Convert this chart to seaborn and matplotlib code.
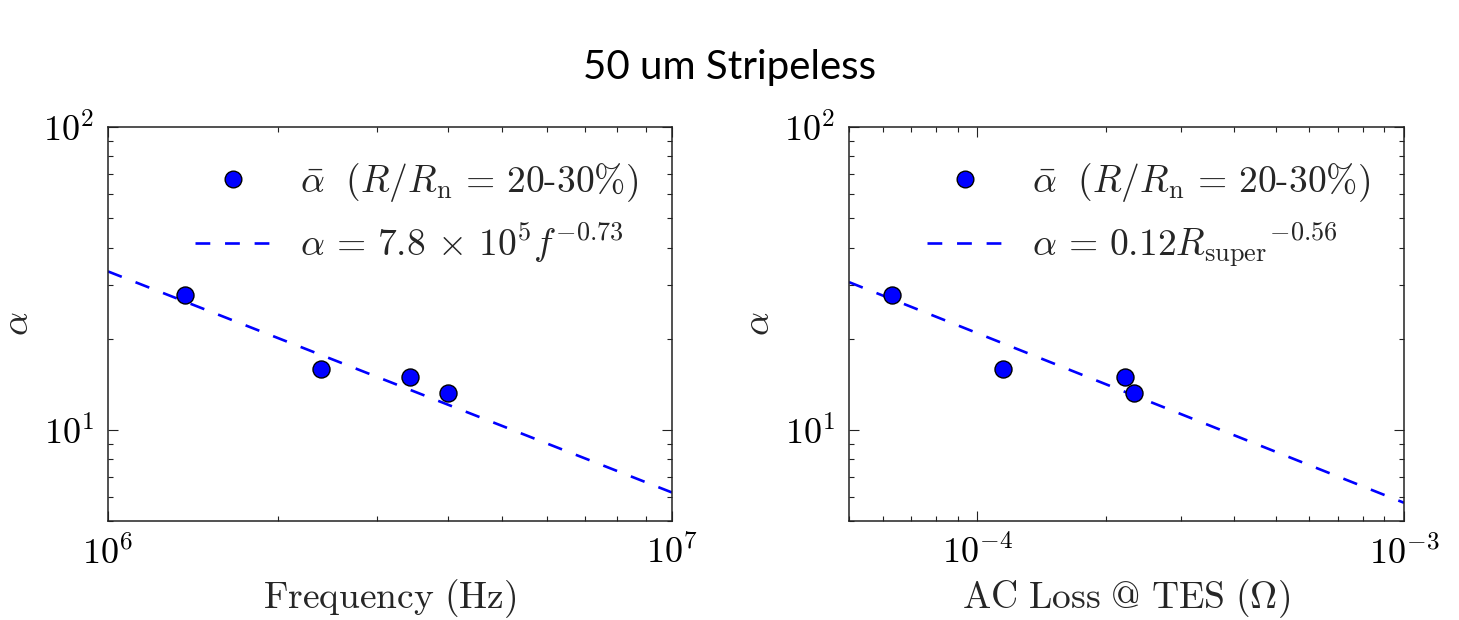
import numpy as np
import matplotlib
matplotlib.use("Agg")
import matplotlib.pyplot as plt
import seaborn as sns
from matplotlib.lines import Line2D

# ---- data ----
freq_hz = [1.37e6, 2.39e6, 3.43e6, 4.0e6]
alpha_left = [27.8, 15.9, 15.0, 13.2]
ac_loss_ohm = [6.29e-5, 1.15e-4, 2.22e-4, 2.33e-4]
alpha_right = [27.8, 15.9, 15.0, 13.2]
fit_left = (8.0e5, -0.73)     # alpha = A f^b
fit_right = (0.12, -0.56)     # alpha = A R^b
xlim_left = (1e6, 1e7)
xlim_right = (5e-5, 1e-3)
ylim = (5, 100)
title = "50 um Stripeless"
xlabel_left = r"$\mathrm{Frequency\ (Hz)}$"
xlabel_right = r"$\mathrm{AC\ Loss\ @\ TES\ (\Omega)}$"
ylabel = r"$\alpha$"
label_pts = r"$\bar{\alpha}\ \ (R/R_\mathrm{n}\,=\,20$-$30\%)$"
label_fit_left = r"$\alpha\,=\,7.8\,\times\,10^5 f^{-0.73}$"
label_fit_right = r"$\alpha\,=\,0.12{R_\mathrm{super}}^{-0.56}$"

sns.set_style("white")
plt.rcParams.update({
    "font.family": ["cmr10", "DejaVu Serif"],
    "mathtext.fontset": "cm",
    "axes.unicode_minus": False,
    "axes.formatter.use_mathtext": True,
    "xtick.direction": "in", "ytick.direction": "in",
    "xtick.top": True, "ytick.right": True,
    "xtick.bottom": True, "ytick.left": True,
    "xtick.minor.visible": True, "ytick.minor.visible": True,
    "xtick.major.size": 7, "ytick.major.size": 7,
    "xtick.minor.size": 3.5, "ytick.minor.size": 3.5,
    "xtick.major.width": 0.8, "ytick.major.width": 0.8,
    "xtick.minor.width": 0.8, "ytick.minor.width": 0.8,
    "axes.edgecolor": "#222222", "axes.linewidth": 1.1,
    "xtick.color": "#222222", "ytick.color": "#222222",
    "xtick.labelcolor": "black", "ytick.labelcolor": "black",
})

fig = plt.figure(figsize=(14.59, 6.2), dpi=100)
ax1 = fig.add_axes([108/1459, 1-521/620, (672-108)/1459, (521-127)/620])
ax2 = fig.add_axes([849/1459, 1-521/620, (1404-849)/1459, (521-127)/620])

dash = (0, (5.6, 5.6))

for ax, xs, ys, fit, xl, xlab, flab in [
    (ax1, freq_hz, alpha_left, fit_left, xlim_left, xlabel_left, label_fit_left),
    (ax2, ac_loss_ohm, alpha_right, fit_right, xlim_right, xlabel_right, label_fit_right),
]:
    ax.set_xscale("log")
    ax.set_yscale("log")
    xg = np.geomspace(xl[0], xl[1], 50)
    yg = fit[0] * xg ** fit[1]
    sns.lineplot(x=xg, y=yg, ax=ax, color="blue", linewidth=1.9,
                 linestyle=dash, legend=False, zorder=2)
    sns.scatterplot(x=xs, y=ys, ax=ax, s=150, color="blue", edgecolor="black",
                    linewidth=1.0, legend=False, zorder=3)
    ax.set_xlim(*xl)
    ax.set_ylim(*ylim)
    ax.set_xlabel(xlab, fontsize=27, labelpad=5)
    ax.set_ylabel(ylabel, fontsize=27, labelpad=6)
    ax.tick_params(axis="both", which="major", labelsize=26, pad=10)
    h_pts = Line2D([], [], linestyle="none", marker="o", markersize=12,
                   markerfacecolor="blue", markeredgecolor="black", markeredgewidth=1.0)
    h_fit = Line2D([], [], color="blue", linewidth=1.9, linestyle=dash)
    ax.legend([h_pts, h_fit], [label_pts, flab], loc="upper right", frameon=False,
              fontsize=27, handlelength=2.0, handletextpad=0.8, labelspacing=0.45,
              borderaxespad=0.5, numpoints=1)

fig.text(0.5, 1-68/620, title, ha="center", va="center", fontsize=29,
         family=["Lato", "DejaVu Sans"], color="black")

fig.savefig("out.png", dpi=100)
